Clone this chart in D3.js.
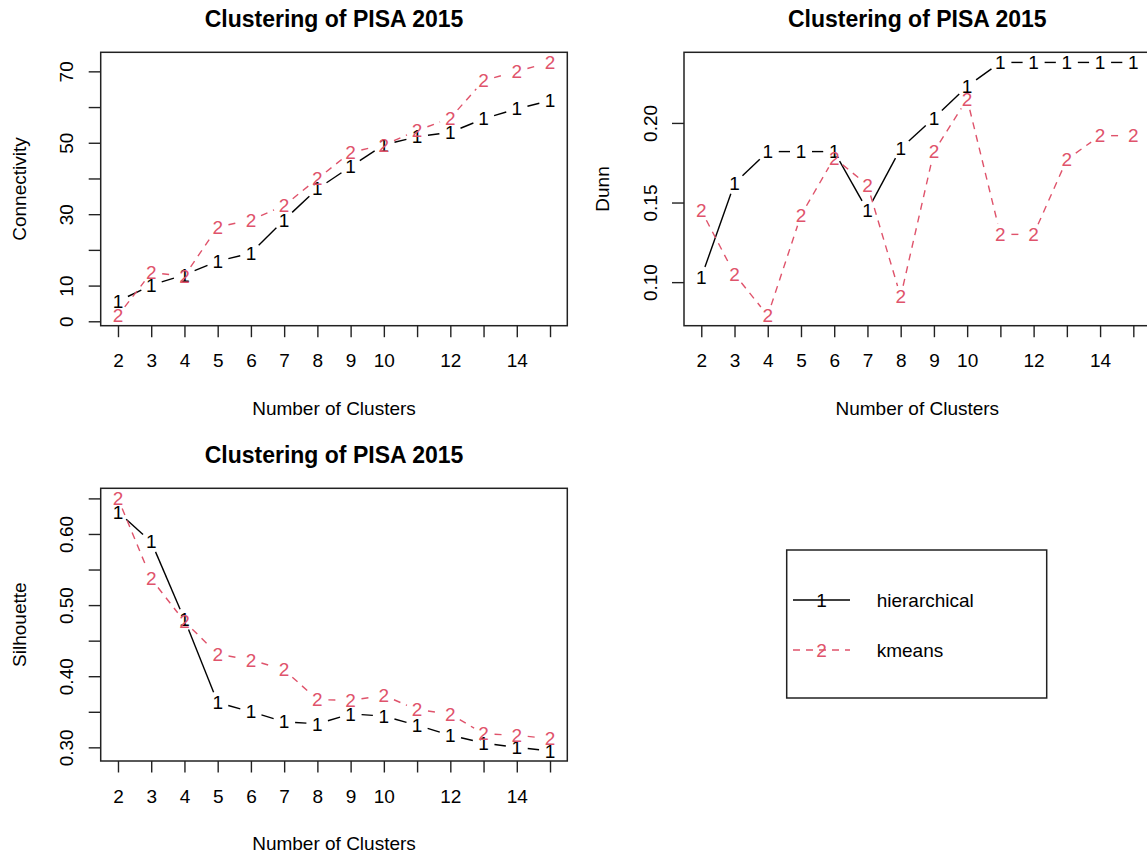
<!DOCTYPE html>
<html>
<head>
<meta charset="utf-8">
<script src="https://cdn.jsdelivr.net/npm/d3@7"></script>
<style>
  html, body { margin: 0; padding: 0; background: #fff; }
  svg text { font-family: "Liberation Sans", Arial, Helvetica, sans-serif; fill: #000; }
</style>
</head>
<body>
<svg id="chart" width="1147" height="856"></svg>
<script>
// ---------------- data ----------------
const clusters = [2, 3, 4, 5, 6, 7, 8, 9, 10, 11, 12, 13, 14, 15];
const xTickLabels = ["2", "3", "4", "5", "6", "7", "8", "9", "10", "", "12", "", "14", ""];

const connHier = [5.6, 10.1, 13.0, 16.8, 19.1, 28.4, 37.1, 43.3, 49.4, 51.7, 52.9, 56.7, 59.5, 61.8];
const connKm   = [1.6, 13.6, 12.7, 26.4, 28.4, 32.4, 39.9, 47.3, 49.4, 53.4, 56.9, 67.4, 70.0, 72.5];
const connTicks = [0, 10, 20, 30, 40, 50, 60, 70];
const connTickLabels = ["0", "10", "", "30", "", "50", "", "70"];

const dunnHier = [0.103, 0.162, 0.182, 0.182, 0.182, 0.145, 0.184, 0.203, 0.223, 0.238, 0.238, 0.238, 0.238, 0.238];
const dunnKm   = [0.145, 0.105, 0.079, 0.142, 0.178, 0.161, 0.091, 0.182, 0.215, 0.130, 0.130, 0.177, 0.192, 0.192];
const dunnTicks = [0.10, 0.15, 0.20];
const dunnTickLabels = ["0.10", "0.15", "0.20"];

const silHier = [0.631, 0.589, 0.480, 0.363, 0.350, 0.336, 0.333, 0.347, 0.344, 0.331, 0.317, 0.306, 0.300, 0.295];
const silKm   = [0.650, 0.537, 0.477, 0.431, 0.423, 0.409, 0.367, 0.366, 0.373, 0.353, 0.347, 0.319, 0.317, 0.312];
const silTicks = [0.30, 0.35, 0.40, 0.45, 0.50, 0.55, 0.60, 0.65];
const silTickLabels = ["0.30", "", "0.40", "", "0.50", "", "0.60", ""];

const seriesNames = ["hierarchical", "kmeans"];
const seriesSymbols = ["1", "2"];
const seriesColors = ["#000000", "#DF536B"];
const seriesDash = [null, "7,6"];

const chartTitle = "Clustering of PISA 2015";
const xTitle = "Number of Clusters";

// ---------------- layout ----------------
const svg = d3.select("#chart");
const FS = 19;          // base font size
const GAP = 11;         // type="b" gap around symbols
const LINE_W = 1.4;

function drawPanel(box, yName, hier, km, yTicks, yTickLabels) {
  const g = svg.append("g");
  const pad = a => { const [lo, hi] = d3.extent(a); const r = hi - lo; return [lo - 0.04 * r, hi + 0.04 * r]; };
  const x = d3.scaleLinear().domain(pad(clusters)).range([box.x0, box.x1]);
  const y = d3.scaleLinear().domain(pad(hier.concat(km))).range([box.y1, box.y0]);

  // title
  g.append("text").attr("x", (box.x0 + box.x1) / 2).attr("y", box.y0 - 25.4)
    .attr("text-anchor", "middle").style("font-size", "23px").style("font-weight", "bold")
    .text(chartTitle);

  // x axis
  const xa = g.append("g").attr("transform", `translate(0,${box.y1})`)
    .call(d3.axisBottom(x).tickValues(clusters).tickSize(11.5).tickSizeOuter(0).tickPadding(16.6)
      .tickFormat((d, i) => xTickLabels[i]));
  xa.select(".domain").remove();
  xa.selectAll("line").attr("stroke", "#222").attr("stroke-width", 1.4);
  xa.selectAll("text").style("font-size", FS + "px").attr("fill", "#000")
    .style("font-family", "'Liberation Sans', Arial, sans-serif");

  // y axis
  const ya = g.append("g").attr("transform", `translate(${box.x0},0)`)
    .call(d3.axisLeft(y).tickValues(yTicks).tickSize(12).tickSizeOuter(0)
      .tickFormat((d, i) => yTickLabels[i]));
  ya.select(".domain").remove();
  ya.selectAll("line").attr("stroke", "#222").attr("stroke-width", 1.4);
  ya.selectAll("text").style("font-size", FS + "px").attr("fill", "#000")
    .style("font-family", "'Liberation Sans', Arial, sans-serif")
    .attr("x", null).attr("dy", null).attr("text-anchor", "middle")
    .attr("transform", "translate(-27.4,0) rotate(-90)");

  // axis titles
  g.append("text").attr("x", (box.x0 + box.x1) / 2).attr("y", box.y1 + 89.3)
    .attr("text-anchor", "middle").style("font-size", FS + "px").text(xTitle);
  g.append("text")
    .attr("transform", `translate(${box.x0 - 75.2},${(box.y0 + box.y1) / 2}) rotate(-90)`)
    .attr("text-anchor", "middle").style("font-size", FS + "px").text(yName);

  // series (type = "b")
  [hier, km].forEach((vals, si) => {
    const pts = vals.map((v, i) => [x(clusters[i]), y(v)]);
    const sg = g.append("g");
    for (let i = 0; i < pts.length - 1; i++) {
      const [ax, ay] = pts[i], [bx, by] = pts[i + 1];
      const dx = bx - ax, dy = by - ay, len = Math.hypot(dx, dy);
      if (len <= 2 * GAP) continue;
      const ux = dx / len, uy = dy / len;
      const seg = sg.append("line")
        .attr("x1", ax + ux * GAP).attr("y1", ay + uy * GAP)
        .attr("x2", bx - ux * GAP).attr("y2", by - uy * GAP)
        .attr("stroke", seriesColors[si]).attr("stroke-width", LINE_W);
      if (seriesDash[si]) seg.attr("stroke-dasharray", seriesDash[si]);
    }
    sg.selectAll("text.sym").data(pts).join("text").attr("class", "sym")
      .attr("x", d => d[0]).attr("y", d => d[1]).attr("dy", "0.35em")
      .attr("text-anchor", "middle").style("font-size", FS + "px")
      .style("fill", seriesColors[si]).text(seriesSymbols[si]);
  });

  // box
  g.append("rect").attr("x", box.x0).attr("y", box.y0)
    .attr("width", box.x1 - box.x0).attr("height", box.y1 - box.y0)
    .attr("fill", "none").attr("stroke", "#222").attr("stroke-width", 1.5);
}

drawPanel({ x0: 100.7, x1: 567.3, y0: 52.3, y1: 325.7 }, "Connectivity", connHier, connKm, connTicks, connTickLabels);
drawPanel({ x0: 684, x1: 1150.6, y0: 52.3, y1: 325.7 }, "Dunn", dunnHier, dunnKm, dunnTicks, dunnTickLabels);
drawPanel({ x0: 100.7, x1: 567.3, y0: 488.3, y1: 761 }, "Silhouette", silHier, silKm, silTicks, silTickLabels);

// legend
const lg = svg.append("g");
lg.append("rect").attr("x", 786.7).attr("y", 550).attr("width", 260).attr("height", 148)
  .attr("fill", "none").attr("stroke", "#222").attr("stroke-width", 1.5);
seriesNames.forEach((name, i) => {
  const cy = 600 + i * 50;
  const ln = lg.append("line").attr("x1", 793).attr("x2", 850).attr("y1", cy).attr("y2", cy)
    .attr("stroke", seriesColors[i]).attr("stroke-width", LINE_W);
  if (seriesDash[i]) ln.attr("stroke-dasharray", seriesDash[i]);
  lg.append("text").attr("x", 821.5).attr("y", cy).attr("dy", "0.35em").attr("text-anchor", "middle")
    .style("font-size", FS + "px").style("fill", seriesColors[i]).text(seriesSymbols[i]);
  lg.append("text").attr("x", 876.7).attr("y", cy).attr("dy", "0.35em")
    .style("font-size", FS + "px").text(name);
});
</script>
</body>
</html>
